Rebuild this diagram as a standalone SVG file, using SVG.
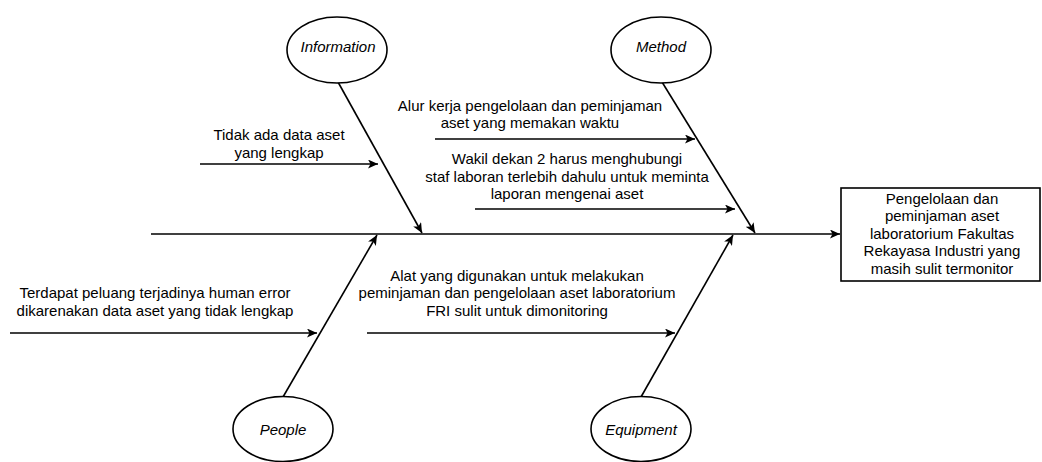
<svg xmlns="http://www.w3.org/2000/svg" width="1042" height="462" viewBox="0 0 1042 462">
<style>
.ln{stroke:#000;stroke-width:1.6;fill:none}
.sh{fill:#fff;stroke:#000;stroke-width:1.6}
text{font-family:"Liberation Sans",Arial,sans-serif;font-size:15px;fill:#000;text-anchor:middle}
.it{font-style:italic}
</style>
<defs>
<marker id="ar" markerWidth="11" markerHeight="9" refX="10" refY="4.5" orient="auto" markerUnits="userSpaceOnUse">
<path d="M0,0 L10,4.5 L0,9 L2.5,4.5 Z" fill="#000"/>
</marker>
</defs>
<rect width="1042" height="462" fill="#fff"/>
<g id="connectors">
<line class="ln" x1="151" y1="234" x2="840" y2="234" marker-end="url(#ar)"/>
<line class="ln" x1="338" y1="82" x2="422" y2="233" marker-end="url(#ar)"/>
<line class="ln" x1="662" y1="82" x2="755" y2="233" marker-end="url(#ar)"/>
<line class="ln" x1="283" y1="397" x2="377" y2="235" marker-end="url(#ar)"/>
<line class="ln" x1="641" y1="397" x2="733" y2="235" marker-end="url(#ar)"/>
<line class="ln" x1="200" y1="164" x2="378" y2="164" marker-end="url(#ar)"/>
<line class="ln" x1="435" y1="139" x2="695" y2="139" marker-end="url(#ar)"/>
<line class="ln" x1="475" y1="209" x2="735" y2="209" marker-end="url(#ar)"/>
<line class="ln" x1="10" y1="333" x2="317" y2="333" marker-end="url(#ar)"/>
<line class="ln" x1="367" y1="333" x2="675" y2="333" marker-end="url(#ar)"/>
</g>
<g id="information">
<ellipse class="sh" cx="337" cy="50" rx="50" ry="33"/>
<text class="it" x="338" y="52">Information</text>
</g>
<g id="method">
<ellipse class="sh" cx="661" cy="50" rx="50" ry="33"/>
<text class="it" x="661" y="52">Method</text>
</g>
<g id="people">
<ellipse class="sh" cx="283" cy="429" rx="50" ry="32.5"/>
<text class="it" x="283" y="435">People</text>
</g>
<g id="equipment">
<ellipse class="sh" cx="641" cy="429" rx="50" ry="32.5"/>
<text class="it" x="641" y="435">Equipment</text>
</g>
<g id="effect">
<rect class="sh" x="841" y="188" width="199" height="93"/>
<text x="942" y="203.5">Pengelolaan dan</text>
<text x="942" y="221">peminjaman aset</text>
<text x="942" y="238.5">laboratorium Fakultas</text>
<text x="942" y="256">Rekayasa Industri yang</text>
<text x="942" y="273.5">masih sulit termonitor</text>
</g>
<g id="cause-information">
<text x="279" y="140">Tidak ada data aset</text>
<text x="279" y="157.5">yang lengkap</text>
</g>
<g id="cause-method-1">
<text x="530" y="110.5">Alur kerja pengelolaan dan peminjaman</text>
<text x="530" y="128">aset yang memakan waktu</text>
</g>
<g id="cause-method-2">
<text x="567" y="164">Wakil dekan 2 harus menghubungi</text>
<text x="567" y="181.5">staf laboran terlebih dahulu untuk meminta</text>
<text x="567" y="199">laporan mengenai aset</text>
</g>
<g id="cause-people">
<text x="155" y="298">Terdapat peluang terjadinya human error</text>
<text x="155" y="315.5">dikarenakan data aset yang tidak lengkap</text>
</g>
<g id="cause-equipment">
<text x="517" y="280.5">Alat yang digunakan untuk melakukan</text>
<text x="517" y="298">peminjaman dan pengelolaan aset laboratorium</text>
<text x="517" y="315.5">FRI sulit untuk dimonitoring</text>
</g>
</svg>
